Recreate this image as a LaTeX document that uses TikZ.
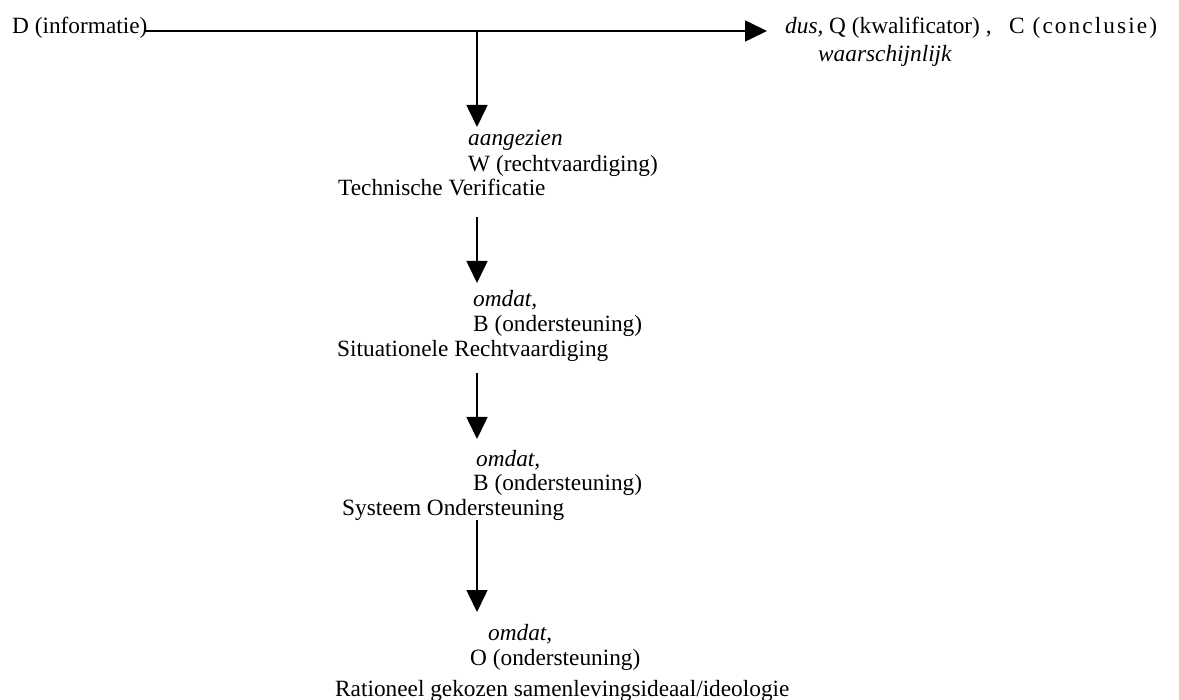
\documentclass[tikz,border=0pt]{standalone}
\usepackage{fontspec}
\setmainfont{Liberation Serif}
\usetikzlibrary{arrows.meta}
\begin{document}
\begin{tikzpicture}[x=1pt,y=-1pt,
  lbl/.style={anchor=base west,inner sep=0pt,font=\fontsize{23.3}{28}\selectfont},
  conn/.style={line width=1.6pt,-{Triangle[length=22pt,width=21pt]}}]
\useasboundingbox (0,0) rectangle (1179,700);
% top row
\node[lbl] (D) at (12,34) {D (informatie)};
\node[lbl] (Q) at (785,34) {\textit{dus,} Q (kwalificator) ,};
\node[lbl] (Qw) at (818,62) {\textit{waarschijnlijk}};
\node[lbl] (C) at (1009,34) {\addfontfeature{LetterSpace=9}C (conclusie)};
% section 1
\node[lbl] (W1) at (468,146) {\textit{aangezien}};
\node[lbl] (W2) at (468,172) {W (rechtvaardiging)};
\node[lbl] (W3) at (338,196) {Technische Verificatie};
% section 2
\node[lbl] (B1) at (473,307) {\textit{omdat,}};
\node[lbl] (B2) at (473,332) {B (ondersteuning)};
\node[lbl] (B3) at (337,357) {Situationele Rechtvaardiging};
% section 3
\node[lbl] (S1) at (476,467) {\textit{omdat,}};
\node[lbl] (S2) at (473,491) {B (ondersteuning)};
\node[lbl] (S3) at (342,516) {Systeem Ondersteuning};
% section 4
\node[lbl] (O1) at (488,640) {\textit{omdat,}};
\node[lbl] (O2) at (470,665) {O (ondersteuning)};
\node[lbl] (O3) at (335,696) {Rationeel gekozen samenlevingsideaal/ideologie};
% connector points
\coordinate (hs) at (145,31);
\coordinate (he) at (767,31);
\coordinate (j) at (477,31);
\coordinate (a1e) at (477,127);
\coordinate (a2s) at (477,217);
\coordinate (a2e) at (477,283);
\coordinate (a3s) at (477,373);
\coordinate (a3e) at (477,439);
\coordinate (a4s) at (477,520);
\coordinate (a4e) at (477,612);
% connectors
\draw[conn] (hs) -- (he);
\draw[conn] (j) -- (a1e);
\draw[conn] (a2s) -- (a2e);
\draw[conn] (a3s) -- (a3e);
\draw[conn] (a4s) -- (a4e);
\end{tikzpicture}
\end{document}
